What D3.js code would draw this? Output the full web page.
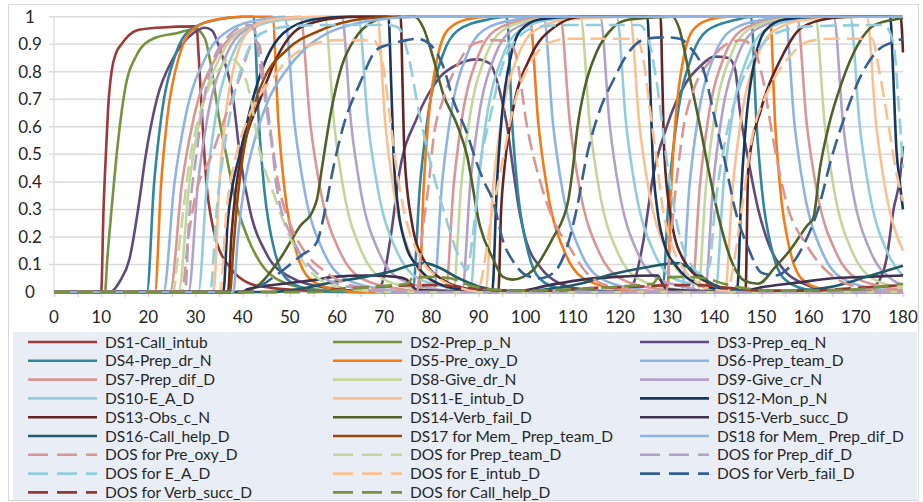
<!DOCTYPE html>
<html>
<head>
<meta charset="utf-8">
<script src="https://cdn.jsdelivr.net/npm/d3@7"></script>
<style>
  body { margin: 0; background: #fff; }
  text { font-family: Lato, "Open Sans", sans-serif; fill: #262626; }
</style>
</head>
<body>
<div id="chart"></div>
<script>

// x axis (time) and y axis tick values
var xTicks = [0, 10, 20, 30, 40, 50, 60, 70, 80, 90, 100, 110, 120, 130, 140, 150, 160, 170, 180];
var yTicks = [0, 0.1, 0.2, 0.3, 0.4, 0.5, 0.6, 0.7, 0.8, 0.9, 1];

var seriesNames = [
    "DS1-Call_intub", "DS2-Prep_p_N", "DS3-Prep_eq_N",
    "DS4-Prep_dr_N", "DS5-Pre_oxy_D", "DS6-Prep_team_D",
    "DS7-Prep_dif_D", "DS8-Give_dr_N", "DS9-Give_cr_N",
    "DS10-E_A_D", "DS11-E_intub_D", "DS12-Mon_p_N",
    "DS13-Obs_c_N", "DS14-Verb_fail_D", "DS15-Verb_succ_D",
    "DS16-Call_help_D", "DS17 for Mem_ Prep_team_D", "DS18 for Mem_ Prep_dif_D",
    "DOS for Pre_oxy_D", "DOS for Prep_team_D", "DOS for Prep_dif_D",
    "DOS for E_A_D", "DOS for E_intub_D", "DOS for Verb_fail_D",
    "DOS for Verb_succ_D", "DOS for Call_help_D"
];

// values, [time, level]
var ds1 = [[0,0],[10,0],[10.5,0.3],[11,0.5],[11.6,0.7],[12.2,0.8],[13.2,0.87],[14.3,0.9],[17.5,0.95],[22,0.96],[30.2,0.965],[30.7,0.85],[31.2,0.7],[31.7,0.55],[32.4,0.38],[33.3,0.27],[34.5,0.18],[37.3,0.09],[41.6,0.03],[46,0.015],[55,0.004],[70,0],[180,0]];
var ds2 = [[0,0],[10.8,0],[11.3,0.12],[12.2,0.3],[13.6,0.55],[15,0.73],[17.5,0.86],[21,0.92],[26,0.94],[30,0.955],[32,0.92],[33.5,0.8],[35,0.63],[36.5,0.5],[38.5,0.33],[41,0.2],[44,0.1],[48,0.04],[55,0.01],[65,0],[180,0]];
var ds3 = [[0,0],[11.9,0],[14,0.04],[16,0.12],[18,0.32],[19.3,0.48],[21.8,0.7],[25.3,0.85],[29.5,0.94],[32,0.96],[33.5,0.95],[35.2,0.88],[38,0.7],[39.4,0.5],[41.5,0.3],[45,0.14],[50,0.055],[58,0.015],[66,0.003],[68,0.003],[69.5,0.03],[71.2,0.18],[73.4,0.45],[76.9,0.63],[81.8,0.78],[86,0.83],[89.6,0.845],[92.4,0.83],[94.5,0.73],[96,0.61],[97.3,0.45],[98.5,0.31],[100.2,0.18],[103.1,0.09],[107.3,0.03],[112,0.01],[118,0.003],[121,0.005],[122.8,0.03],[124.9,0.18],[127,0.42],[129.9,0.6],[134,0.76],[137,0.82],[140,0.855],[143,0.85],[144.4,0.81],[145.4,0.66],[147.2,0.48],[149.3,0.3],[151.4,0.18],[155,0.075],[159,0.03],[164,0.008],[172,0.003],[174.5,0.03],[176.5,0.12],[178,0.3],[179.4,0.42],[180,0.53]];
var ds4 = [[0,0],[19.7,0],[21.2,0.39],[22.7,0.63],[25.7,0.86],[28.7,0.95],[34.7,0.99],[40,1],[42.3,1],[43.45,0.61],[44.6,0.37],[46.9,0.14],[49.2,0.05],[53.8,0.01],[60,0],[76,0],[77.6,0.39],[79.2,0.63],[82.4,0.86],[85.6,0.95],[92,0.99],[96,1],[97.15,0.61],[98.3,0.37],[100.6,0.14],[102.9,0.05],[107.5,0.01],[112,0],[128.9,0],[130.5,0.39],[132.1,0.63],[135.3,0.86],[138.5,0.95],[144.9,0.99],[147.8,1],[148.95,0.61],[150.1,0.37],[152.4,0.14],[154.7,0.05],[159.3,0.01],[165,0],[180,0]];
var ds5 = [[0,0],[21.4,0],[22.7,0.39],[24,0.63],[26.6,0.86],[29.2,0.95],[34.4,0.99],[40,1],[46.3,1],[47.6,0.61],[48.9,0.37],[51.5,0.14],[54.1,0.05],[59.3,0.01],[65,0],[77.4,0],[78.4,0.39],[79.4,0.63],[81.4,0.86],[83.4,0.95],[87.4,0.99],[92,1],[100.8,1],[102.7,0.61],[104.6,0.37],[108.4,0.14],[112.2,0.05],[119.8,0.01],[126,0],[130,0],[130.9,0.39],[131.8,0.63],[133.6,0.86],[135.4,0.95],[139,0.99],[143,1],[151.8,1],[152.9,0.61],[154,0.37],[156.2,0.14],[158.4,0.05],[162.8,0.01],[168,0],[180,0]];
var ds6 = [[0,0],[23.2,0],[25.5,0.39],[27.8,0.63],[32.4,0.86],[37,0.95],[44,0.99],[48.9,1],[51,0.61],[53.1,0.37],[57.3,0.14],[61.5,0.05],[69.9,0.01],[76,0],[80.5,0],[82.25,0.39],[84,0.63],[87.5,0.86],[91,0.95],[98,0.99],[103.8,1],[105.8,0.61],[107.8,0.37],[111.8,0.14],[115.8,0.05],[123.8,0.01],[130,0],[133,0],[134.75,0.39],[136.5,0.63],[140,0.86],[143.5,0.95],[150.5,0.99],[155,1],[157,0.61],[159,0.37],[163,0.14],[167,0.05],[175,0.01],[180,0.003]];
var ds7 = [[0,0],[24.6,0],[27.1,0.39],[29.6,0.63],[34.6,0.86],[39.6,0.95],[47,0.99],[52.2,1],[54.35,0.61],[56.5,0.37],[60.8,0.14],[65.1,0.05],[73.7,0.01],[80,0],[83,0],[84.75,0.39],[86.5,0.63],[90,0.86],[93.5,0.95],[100.5,0.99],[107.3,1],[109.4,0.61],[111.5,0.37],[115.7,0.14],[119.9,0.05],[128.3,0.01],[134,0],[135.2,0],[136.95,0.39],[138.7,0.63],[142.2,0.86],[145.7,0.95],[152.7,0.99],[157.5,1],[159.6,0.61],[161.7,0.37],[165.9,0.14],[170.1,0.05],[178.5,0.01],[180,0.005]];
var ds8 = [[0,0],[26.4,0],[28.65,0.39],[30.9,0.63],[35.4,0.86],[39.9,0.95],[48.9,0.99],[57.4,1],[59.4,0.61],[61.4,0.37],[65.4,0.14],[69.4,0.05],[77.4,0.01],[84,0],[84.6,0],[86.35,0.39],[88.1,0.63],[91.6,0.86],[95.1,0.95],[102.1,0.99],[111.6,1],[113.6,0.61],[115.6,0.37],[119.6,0.14],[123.6,0.05],[131.6,0.01],[136.5,0],[138.25,0.39],[140,0.63],[143.5,0.86],[147,0.95],[154,0.99],[161.4,1],[163.4,0.61],[165.4,0.37],[169.4,0.14],[173.4,0.05],[180,0.015]];
var ds9 = [[0,0],[28.5,0],[30.5,0.39],[32.5,0.63],[36.5,0.86],[40.5,0.95],[48.5,0.99],[61,1],[63,0.61],[65,0.37],[69,0.14],[73,0.05],[81,0.01],[86.5,0],[88.25,0.39],[90,0.63],[93.5,0.86],[97,0.95],[104,0.99],[115.8,1],[117.8,0.61],[119.8,0.37],[123.8,0.14],[127.8,0.05],[135.8,0.01],[138,0],[139.75,0.39],[141.5,0.63],[145,0.86],[148.5,0.95],[155.5,0.99],[165.3,1],[167.3,0.61],[169.3,0.37],[173.3,0.14],[177.3,0.05],[180,0.025]];
var ds10 = [[0,0],[30.6,0],[32.4,0.39],[34.2,0.63],[37.8,0.86],[41.4,0.95],[48.6,0.99],[64.5,1],[66.6,0.61],[68.7,0.37],[72.9,0.14],[77.1,0.05],[85.5,0.01],[88.2,0],[89.95,0.39],[91.7,0.63],[95.2,0.86],[98.7,0.95],[105.7,0.99],[119.3,1],[121.3,0.61],[123.3,0.37],[127.3,0.14],[131.3,0.05],[139.3,0.01],[140.2,0],[141.95,0.39],[143.7,0.63],[147.2,0.86],[150.7,0.95],[157.7,0.99],[168.8,1],[170.8,0.61],[172.8,0.37],[176.8,0.14],[180,0.06]];
var ds11 = [[0,0],[33.8,0],[35.05,0.39],[36.3,0.63],[38.8,0.86],[41.3,0.95],[46.3,0.99],[55,1],[68.5,1],[70.25,0.61],[72,0.37],[75.5,0.14],[79,0.05],[86,0.01],[91.4,0],[93.15,0.39],[94.9,0.63],[98.4,0.86],[101.9,0.95],[108.9,0.99],[122.1,1],[124.1,0.61],[126.1,0.37],[130.1,0.14],[134.1,0.05],[142.2,0],[143.95,0.39],[145.7,0.63],[149.2,0.86],[152.7,0.95],[159.7,0.99],[172.3,1],[174.3,0.61],[176.3,0.37],[180,0.15]];
var ds12 = [[0,0],[35.9,0],[36.8,0.25],[38,0.4],[39.4,0.5],[42.3,0.71],[45.1,0.85],[48.6,0.94],[55,0.99],[62,1],[70.9,1],[71.5,0.75],[72,0.5],[73,0.3],[74.4,0.18],[77.2,0.09],[81.5,0.03],[88,0.005],[92.9,0],[93.9,0.39],[94.9,0.63],[96.9,0.86],[98.9,0.95],[102.9,0.99],[110,1],[125.8,1],[126.4,0.75],[126.9,0.5],[127.9,0.3],[129.3,0.18],[132.1,0.09],[136.4,0.03],[143,0.005],[144.8,0],[145.8,0.39],[146.8,0.63],[148.8,0.86],[150.8,0.95],[154.8,0.99],[162,1],[177.3,1],[177.9,0.8],[178.6,0.52],[179.3,0.4],[180,0.3]];
var ds13 = [[0,0],[36.9,0],[37.6,0.2],[38.6,0.38],[40.1,0.52],[43.7,0.7],[47.2,0.85],[52.2,0.96],[60,0.995],[65,1],[73.5,1],[73.9,0.75],[74.3,0.5],[75.8,0.26],[78.6,0.11],[82.9,0.04],[88,0.01],[94.2,0],[94.8,0.3],[95.5,0.45],[97.4,0.67],[100.9,0.85],[105.9,0.96],[112,1],[128.6,1],[129,0.75],[129.4,0.5],[130.9,0.26],[133.7,0.11],[138,0.04],[143,0.01],[146.6,0],[147.2,0.45],[150,0.67],[154.2,0.85],[158.5,0.96],[165,0.995],[170,1],[179.5,1],[180,0.87]];
var ds14 = [[0,0],[39.4,0],[43.7,0.03],[47.9,0.12],[52.2,0.24],[55,0.3],[55.8,0.34],[56.8,0.45],[58.9,0.67],[61,0.82],[63.8,0.92],[67.4,0.98],[70,0.995],[76.5,1],[78.3,0.96],[80.4,0.85],[82.5,0.72],[85.4,0.61],[87.5,0.5],[90.3,0.24],[93.1,0.12],[95.2,0.055],[97.3,0.045],[99.5,0.055],[101.6,0.08],[105.9,0.2],[108,0.27],[109,0.33],[110,0.45],[111,0.6],[112.5,0.74],[115,0.87],[118.5,0.96],[122,0.99],[131.2,1],[132.5,0.96],[134.8,0.78],[137,0.6],[138.7,0.45],[140.8,0.28],[143.7,0.11],[146.5,0.04],[149.3,0.03],[152.9,0.09],[156.4,0.16],[159.6,0.24],[161,0.27],[162.4,0.45],[164.2,0.6],[167,0.76],[170.5,0.9],[174,0.97],[178.3,0.99],[180,0.995]];
var ds15 = [[0,0],[40,0],[41,0.01],[48.6,0.03],[55.7,0.045],[59.2,0.055],[66.3,0.06],[72.6,0.055],[74.8,0.045],[76,0.02],[77,0.008],[85,0.003],[98,0.003],[105,0.025],[112,0.045],[119.3,0.055],[128,0.06],[129,0.03],[130,0.01],[140,0.003],[146,0.005],[151,0.02],[158,0.035],[165,0.05],[172,0.055],[180,0.06]];
var ds16 = [[0,0],[46,0],[51.8,0.01],[58.9,0.035],[66,0.055],[71.6,0.075],[75.8,0.098],[78.6,0.105],[81.5,0.09],[85.8,0.05],[90,0.02],[95,0.005],[100,0.003],[104.4,0.01],[111.5,0.03],[118.5,0.065],[125.6,0.09],[132,0.105],[135.5,0.08],[139,0.035],[143.7,0.008],[150,0.002],[158,0.005],[165.2,0.02],[172.3,0.055],[180,0.095]];
var ds17 = [[0,0],[37.3,0],[38,0.15],[38.7,0.3],[40.1,0.5],[42.3,0.67],[44.4,0.77],[49.4,0.88],[56.4,0.95],[63,0.985],[70,0.998],[76,1],[180,1]];
var ds18 = [[0,0],[38,0],[39,0.2],[40.5,0.4],[42.5,0.55],[45.5,0.7],[49,0.8],[53,0.88],[58,0.94],[64,0.975],[70,0.992],[77,1],[180,1]];
var dosPreOxy = [[0,0],[27.1,0],[28.5,0.2],[30,0.35],[33.5,0.5],[36.6,0.65],[39.4,0.78],[42.5,0.91],[43.5,0.9],[44.3,0.8],[45.8,0.6],[47.5,0.4],[50,0.25],[53,0.15],[57,0.08],[62,0.03],[68,0.01],[77,0],[77.9,0.18],[79.5,0.4],[80.4,0.55],[82.5,0.7],[85.4,0.82],[88.8,0.9],[93,0.915],[96.5,0.91],[98.1,0.85],[100.2,0.61],[103.1,0.4],[105.9,0.26],[109.4,0.16],[112.9,0.07],[118,0.02],[125,0.005],[129.8,0],[130.8,0.2],[132.3,0.45],[133.5,0.6],[135.5,0.73],[139.1,0.84],[142.6,0.9],[146,0.915],[148.5,0.88],[150.2,0.78],[152.5,0.55],[155.7,0.3],[159.2,0.18],[163,0.09],[168,0.03],[175,0.008],[180,0.002]];
var dosPrepTeam = [[0,0],[25.3,0],[26.2,0.12],[27.1,0.25],[28.8,0.48],[30.5,0.62],[33,0.75],[35.5,0.82],[37.3,0.85],[39.4,0.82],[41.5,0.72],[43.5,0.52],[46.5,0.36],[50,0.2],[53.6,0.09],[58,0.03],[64,0.008],[70,0],[180,0]];
var dosPrepDif = [[0,0],[27.8,0],[28.6,0.25],[30.2,0.5],[33,0.8],[37,0.93],[41.5,0.97],[42.5,0.95],[43.7,0.82],[45.1,0.66],[46.5,0.49],[47.2,0.38],[50.7,0.19],[55,0.08],[60,0.03],[66,0.01],[72,0],[180,0]];
var dosEA = [[0,0],[33.1,0],[34.5,0.3],[35.9,0.5],[38,0.7],[40.5,0.85],[44,0.94],[50,0.965],[60,0.97],[71,0.97],[73,0.96],[75.1,0.86],[77.2,0.67],[80.1,0.45],[82.9,0.28],[85.8,0.13],[87.5,0.08],[88.9,0.22],[90.3,0.45],[92.4,0.63],[95.2,0.83],[98.7,0.93],[103,0.965],[110,0.97],[124,0.97],[125.6,0.94],[127.8,0.76],[129.9,0.48],[132.7,0.2],[135,0.1],[137.5,0.065],[139,0.1],[140.1,0.3],[142.3,0.55],[145.1,0.73],[149,0.87],[153,0.94],[160,0.965],[176,0.97],[178,0.9],[179,0.7],[180,0.45]];
var dosEIntub = [[0,0],[35.2,0],[36.6,0.3],[38.7,0.5],[41.6,0.65],[46.5,0.78],[50,0.85],[55,0.9],[60,0.915],[67.7,0.915],[69.8,0.82],[71.2,0.64],[72.6,0.45],[74.4,0.28],[77.2,0.14],[81.5,0.05],[86,0.015],[89.8,0.003],[90.8,0.06],[92.5,0.25],[94.6,0.43],[97.4,0.67],[100.9,0.83],[104.4,0.9],[108.7,0.92],[123.5,0.92],[124.9,0.85],[126.3,0.67],[127.7,0.49],[129.1,0.3],[131.2,0.16],[134.1,0.07],[138,0.02],[143,0.003],[143.7,0.06],[145.8,0.3],[147.9,0.55],[151.4,0.73],[155.7,0.85],[159.9,0.91],[165,0.92],[173.4,0.92],[175.1,0.79],[176.9,0.61],[178.3,0.46],[180,0.33]];
var dosVerbFail = [[0,0],[42,0],[43.7,0.02],[48.6,0.08],[52.2,0.13],[55.7,0.18],[57.5,0.3],[59.2,0.45],[61.3,0.6],[64.9,0.76],[68.4,0.88],[71.2,0.9],[74.8,0.915],[77,0.92],[79.7,0.9],[82.5,0.82],[84.6,0.7],[87.5,0.58],[89.6,0.47],[91.2,0.4],[93.1,0.33],[95.3,0.18],[97.4,0.11],[100.2,0.06],[103,0.05],[105.9,0.07],[108.7,0.16],[110.8,0.3],[112.9,0.49],[115.7,0.66],[118.6,0.77],[121.4,0.86],[125.6,0.92],[129.9,0.925],[132.7,0.92],[134.8,0.89],[138,0.79],[140.1,0.63],[142.3,0.47],[144.4,0.3],[147.2,0.16],[150,0.07],[152.9,0.06],[156.4,0.1],[159.2,0.18],[162,0.3],[164.9,0.49],[167.7,0.64],[171.2,0.79],[174.8,0.88],[178.3,0.91],[180,0.92]];
var dosVerbSucc = [[0,0],[55,0],[60,0.01],[70,0.02],[76,0.025],[82,0.025],[88,0.015],[95,0.005],[105,0.005],[115,0.015],[125,0.02],[130,0.025],[137,0.025],[143,0.015],[150,0.005],[160,0.005],[170,0.015],[180,0.025]];
var dosCallHelp = [[0,0],[55,0],[65,0.015],[72,0.025],[75,0.03],[76,0.05],[80,0.055],[84,0.05],[88,0.025],[92,0.01],[100,0.005],[110,0.01],[120,0.02],[127,0.03],[128,0.05],[133,0.055],[138,0.05],[142,0.03],[146,0.015],[152,0.005],[160,0.005],[170,0.01],[180,0.03]];

var seriesValues = [ds1, ds2, ds3, ds4, ds5, ds6, ds7, ds8, ds9, ds10, ds11, ds12, ds13,
    ds14, ds15, ds16, ds17, ds18, dosPreOxy, dosPrepTeam, dosPrepDif, dosEA, dosEIntub,
    dosVerbFail, dosVerbSucc, dosCallHelp];

// styles (Excel palette)
var seriesColors = ["#9b3a38", "#77933c", "#604a7b", "#31859c", "#f47a17", "#8eb4e3",
    "#d99694", "#c3d69b", "#b3a2c7", "#93cddd", "#fac090", "#17375e", "#632523",
    "#4f6228", "#403151", "#215968", "#984807", "#8db3e2",
    "#d99694", "#c3d69b", "#b3a2c7", "#93cddd", "#fac090", "#376092", "#953735", "#77933c"];

var width = 923, height = 502;
var plot = { left: 54, right: 903, top: 16.7, bottom: 292 };

var svg = d3.select("#chart").append("svg")
    .attr("width", width)
    .attr("height", height);

svg.append("rect")
    .attr("x", 8.5).attr("y", 4.5)
    .attr("width", 910).attr("height", 496)
    .attr("fill", "#fff")
    .attr("stroke", "#d9d9d9");

var x = d3.scaleLinear().domain([0, 180]).range([plot.left, plot.right]);
var y = d3.scaleLinear().domain([0, 1]).range([plot.bottom, plot.top]);

// gridlines
svg.append("g").selectAll("line")
    .data(yTicks.slice(1))
    .enter().append("line")
    .attr("x1", plot.left - 5).attr("x2", plot.right)
    .attr("y1", function(d) { return y(d); })
    .attr("y2", function(d) { return y(d); })
    .attr("stroke", "#d9d9d9")
    .attr("stroke-width", 1.5);

// axes
var xAxis = d3.axisBottom(x)
    .tickValues(d3.range(0, 181, 5))
    .tickSize(5)
    .tickFormat("");
svg.append("g")
    .attr("transform", "translate(0," + plot.bottom + ")")
    .call(xAxis)
    .call(function(g) {
        g.select(".domain").attr("stroke", "#d9d9d9").attr("stroke-width", 1.5);
        g.selectAll(".tick line").attr("stroke", "#d9d9d9").attr("stroke-width", 1.5);
    });

svg.append("g").selectAll("text")
    .data(xTicks)
    .enter().append("text")
    .attr("x", function(d) { return x(d); })
    .attr("y", 323)
    .attr("text-anchor", "middle")
    .attr("font-size", 17)
    .text(function(d) { return d; });

svg.append("line")
    .attr("x1", plot.left).attr("x2", plot.left)
    .attr("y1", plot.top).attr("y2", plot.bottom)
    .attr("stroke", "#d6dff0")
    .attr("stroke-width", 1.5);

svg.append("g").selectAll("text")
    .data(yTicks)
    .enter().append("text")
    .attr("x", 30)
    .attr("y", function(d) { return y(d) + 6; })
    .attr("text-anchor", "middle")
    .attr("font-size", 17)
    .text(function(d) { return d; });

// series lines
var line = d3.line()
    .x(function(d) { return x(d[0]); })
    .y(function(d) { return y(d[1]); })
    .curve(d3.curveMonotoneX);

svg.append("g").selectAll("path")
    .data(seriesValues)
    .enter().append("path")
    .attr("d", line)
    .attr("fill", "none")
    .attr("stroke", function(d, i) { return seriesColors[i]; })
    .attr("stroke-width", 2.6)
    .attr("stroke-dasharray", function(d, i) { return i >= 18 ? "16,7" : null; });

// legend
svg.append("rect")
    .attr("x", 13).attr("y", 332)
    .attr("width", 904).attr("height", 168)
    .attr("fill", "#e9eef6");

var colX = [28, 333, 640];
var legend = svg.append("g").selectAll("g")
    .data(seriesNames)
    .enter().append("g")
    .attr("transform", function(d, i) {
        return "translate(" + colX[i % 3] + "," + (342 + Math.floor(i / 3) * 18.8) + ")";
    });

legend.append("line")
    .attr("x1", 0).attr("x2", 69)
    .attr("stroke", function(d, i) { return seriesColors[i]; })
    .attr("stroke-width", 2.6)
    .attr("stroke-dasharray", function(d, i) { return i >= 18 ? "20,9" : null; });

legend.append("text")
    .attr("x", 77)
    .attr("y", 5.5)
    .attr("font-size", 15.5)
    .text(function(d) { return d; });

</script>
</body>
</html>
